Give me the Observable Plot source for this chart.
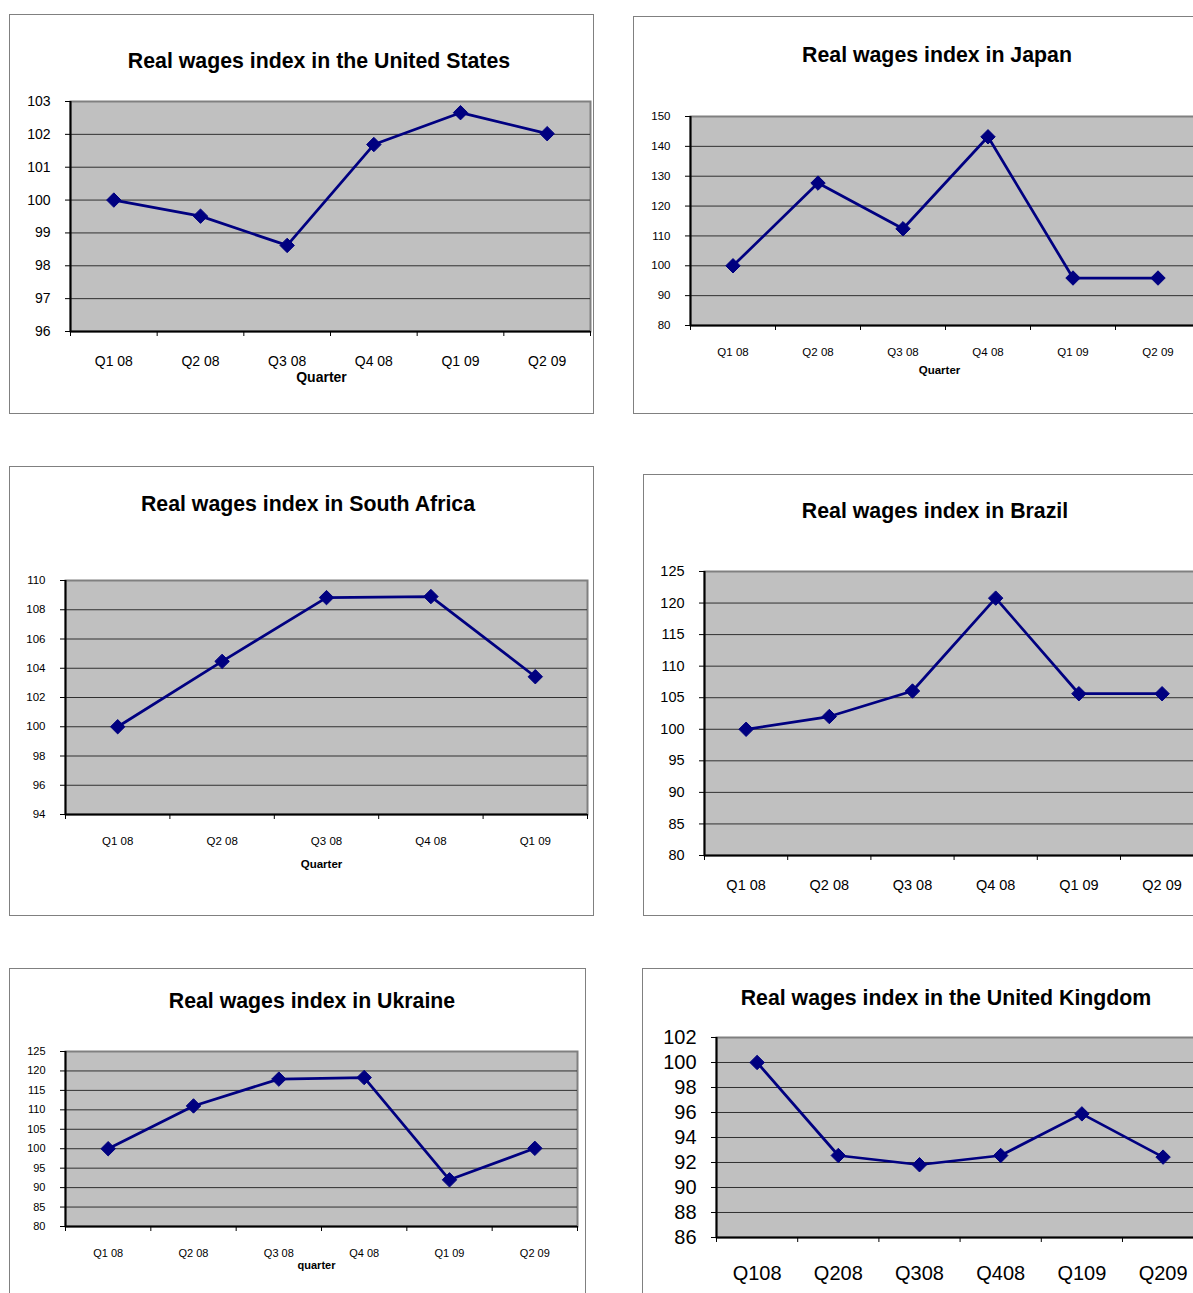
<!DOCTYPE html>
<html>
<head>
<meta charset="utf-8">
<script src="https://cdn.jsdelivr.net/npm/d3@7"></script>
<script src="https://cdn.jsdelivr.net/npm/@observablehq/plot@0.6"></script>
<style>
  html, body { margin: 0; padding: 0; background: #fff; }
  body {
    width: 1193px; height: 1293px; overflow: hidden; position: relative;
    font-family: "Liberation Sans", Arial, sans-serif; color: #000;
  }
  .panel { position: absolute; border: 1px solid #808080; box-sizing: border-box; background: #fff; }
  .title {
    position: absolute; font-weight: bold; font-size: 21.3px; white-space: nowrap;
    transform: translate(-50%, -50%); line-height: 1;
  }
  .chart { position: absolute; }
  .chart svg { max-width: none !important; display: block; }
</style>
</head>
<body>
<script>
// Quarter labels
const quarters = ["Q1 08", "Q2 08", "Q3 08", "Q4 08", "Q1 09", "Q2 09"];
const quartersSouthAfrica = ["Q1 08", "Q2 08", "Q3 08", "Q4 08", "Q1 09"];
const quartersCompact = ["Q108", "Q208", "Q308", "Q408", "Q109", "Q209"];

// Real wages index, Q1 2008 = 100
const usIndex = [100, 99.51, 98.62, 101.69, 102.66, 102.02];
const japanIndex = [100, 127.7, 112.4, 143.2, 95.9, 95.9];
const southAfricaIndex = [100, 104.47, 108.83, 108.9, 103.42];
const brazilIndex = [100, 102.02, 106.06, 120.78, 105.63, 105.63];
const ukraineIndex = [100, 111.0, 117.9, 118.3, 92.0, 100.1];
const ukIndex = [100, 92.56, 91.82, 92.56, 95.89, 92.43];

// Value-axis ticks
const usTicks = [96, 97, 98, 99, 100, 101, 102, 103];
const japanTicks = [80, 90, 100, 110, 120, 130, 140, 150];
const southAfricaTicks = [94, 96, 98, 100, 102, 104, 106, 108, 110];
const brazilTicks = [80, 85, 90, 95, 100, 105, 110, 115, 120, 125];
const ukraineTicks = [80, 85, 90, 95, 100, 105, 110, 115, 120, 125];
const ukTicks = [86, 88, 90, 92, 94, 96, 98, 100, 102];

// Layout of the six panels on the page: outer box, title centre, plot area, type sizes
const panels = [
  {title: "Real wages index in the United States", categories: quarters, values: usIndex, ticks: usTicks,
   box: [9, 14, 585, 400], titleAt: [319, 62], plot: [70, 101, 590, 331],
   font: 14, xPad: 25, axisTitle: "Quarter", axisTitleDy: 50, axisTitleDx: -9},
  {title: "Real wages index in Japan", categories: quarters, values: japanIndex, ticks: japanTicks,
   box: [633, 16, 620, 398], titleAt: [937, 56], plot: [689.5, 116, 1199.5, 325],
   font: 11.5, xPad: 22, axisTitle: "Quarter", axisTitleDy: 48, axisTitleDx: -6},
  {title: "Real wages index in South Africa", categories: quartersSouthAfrica, values: southAfricaIndex, ticks: southAfricaTicks,
   box: [9, 466, 585, 450], titleAt: [308, 505], plot: [65, 580, 587, 814],
   font: 11.5, xPad: 22, axisTitle: "Quarter", axisTitleDy: 53, axisTitleDx: -5},
  {title: "Real wages index in Brazil", categories: quarters, values: brazilIndex, ticks: brazilTicks,
   box: [643, 474, 620, 442], titleAt: [935, 512], plot: [704.3, 571, 1203.5, 855],
   font: 14.5, xPad: 24, axisTitle: null},
  {title: "Real wages index in Ukraine", categories: quarters, values: ukraineIndex, ticks: ukraineTicks,
   box: [9, 968, 577, 400], titleAt: [312, 1002], plot: [65, 1051, 577, 1226],
   font: 11, xPad: 23, axisTitle: "quarter", axisTitleDy: 42, axisTitleDx: -5},
  {title: "Real wages index in the United Kingdom", categories: quartersCompact, values: ukIndex, ticks: ukTicks,
   box: [642, 968, 620, 400], titleAt: [946, 999], plot: [716.4, 1037, 1203.6, 1237],
   font: 20, xPad: 28, axisTitle: null}
];

const FONT = '"Liberation Sans", Arial, sans-serif';
const NAVY = "#000080";

function drawPanel(p) {
  const [bx, by, bw, bh] = p.box;
  const frame = document.createElement("div");
  frame.className = "panel";
  Object.assign(frame.style, {left: bx + "px", top: by + "px", width: bw + "px", height: bh + "px"});
  document.body.appendChild(frame);

  const title = document.createElement("div");
  title.className = "title";
  title.textContent = p.title;
  Object.assign(title.style, {left: p.titleAt[0] + "px", top: p.titleAt[1] + "px"});
  document.body.appendChild(title);

  const n = p.categories.length;
  const rows = p.categories.map((q, i) => ({quarter: q, pos: i + 0.5, value: p.values[i]}));
  const centers = rows.map(d => d.pos);
  const bounds = d3.range(n + 1);
  const yMin = p.ticks[0], yMax = p.ticks[p.ticks.length - 1];

  const mL = 60, mR = 6, mT = 6, mB = 62;
  const [x0, y0, x1, y1] = p.plot;
  const w = x1 - x0, h = y1 - y0;
  const W = w + mL + mR, H = h + mT + mB;

  const svg = Plot.plot({
    width: W,
    height: H,
    marginLeft: mL, marginRight: mR, marginTop: mT, marginBottom: mB,
    style: {fontFamily: FONT, fontSize: p.font + "px", color: "#000", background: "transparent", overflow: "visible", maxWidth: "none"},
    x: {type: "linear", domain: [0, n]},
    y: {domain: [yMin, yMax]},
    marks: [
      // grey plot area with its light border
      Plot.frame({fill: "#c0c0c0", stroke: "#808080", strokeWidth: 2}),
      // horizontal gridlines
      Plot.ruleY(p.ticks.slice(1, -1), {stroke: "#303030", strokeWidth: 1}),
      // value axis
      Plot.axisY({ticks: p.ticks, tickSize: 5, tickPadding: 15, label: null, tickFormat: d => String(d)}),
      // category boundary tick marks
      Plot.axisX({ticks: bounds, tickSize: 5, tickFormat: () => "", label: null}),
      // category labels, centred in each slot
      Plot.axisX({ticks: centers, tickSize: 0, tickPadding: p.xPad, label: null,
                  tickFormat: v => p.categories[Math.round(v - 0.5)]}),
      // axis lines
      Plot.ruleX([0], {stroke: "#000", strokeWidth: 2}),
      Plot.ruleY([yMin], {stroke: "#000", strokeWidth: 2}),
      // series
      Plot.line(rows, {x: "pos", y: "value", stroke: NAVY, strokeWidth: 2.75}),
      Plot.dot(rows, {x: "pos", y: "value", symbol: "diamond2", r: 6.5, fill: NAVY, stroke: NAVY, strokeWidth: 1}),
      p.axisTitle ? Plot.text([p.axisTitle], {frameAnchor: "bottom", dy: p.axisTitleDy, dx: p.axisTitleDx,
                                              fontWeight: "bold", fontSize: p.font}) : null
    ]
  });
  svg.setAttribute("width", W);
  svg.setAttribute("height", H);

  const holder = document.createElement("div");
  holder.className = "chart";
  Object.assign(holder.style, {left: (x0 - mL) + "px", top: (y0 - mT) + "px", width: W + "px", height: H + "px"});
  holder.appendChild(svg);
  document.body.appendChild(holder);
}

panels.forEach(drawPanel);
</script>
</body>
</html>
